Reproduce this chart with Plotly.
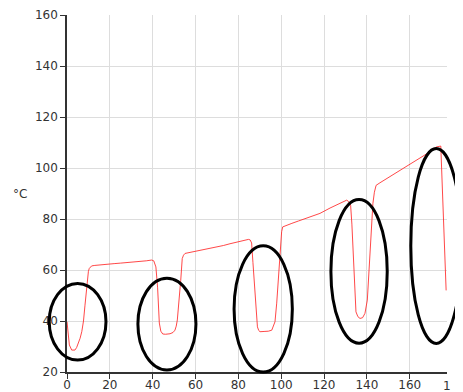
import plotly.graph_objects as go

# Temperature profile (°C) vs time
time = [0, 0.5, 1.1, 2.2, 3.0, 3.7, 4.5, 5.3, 6.1, 6.9, 7.7, 8.4, 9.0, 9.5, 10.0, 10.4, 11.0, 11.5,
        13, 15, 17.7, 20, 22, 25, 27, 30, 32, 35, 37, 39.5, 40.5, 41.5, 42.3, 43.1, 43.8, 44.7, 46,
        48.1, 49.5, 50.4, 51.0, 51.5, 52.3, 53.1, 53.8, 54.4, 55.1, 57, 60, 63, 66, 70, 73, 76.1,
        79, 82, 84.7, 85.5, 86.2, 86.8, 87.3, 88.1, 88.9, 89.5, 90.1, 92, 94, 95.6, 96.4, 97.1,
        97.9, 98.7, 99.3, 99.8, 100.2, 100.7, 102, 105, 108, 111, 114, 118.1, 122.8, 125, 127.5,
        130.6, 131.5, 132.4, 133.0, 133.4, 134.2, 134.9, 135.8, 136.8, 138, 139.1, 140.2, 141.2,
        142.2, 142.8, 143.5, 144.3, 146.1, 149.2, 152, 155, 158, 161, 164.8, 168, 170.5, 172.6,
        174.5, 177.0]
temp = [39.7, 34, 30.6, 28.6, 28.5, 28.6, 29.6, 31.2, 33.2, 35.8, 40, 46.2, 52, 56.7, 59.5, 60.6, 61.3, 61.6,
        61.8, 62.0, 62.2, 62.4, 62.5, 62.7, 62.8, 63.0, 63.2, 63.4, 63.6, 63.9, 63.6, 61.2, 53, 39.2, 36.0, 34.9, 34.8,
        35.0, 35.5, 36.4, 38, 40.4, 47, 56, 64.5, 65.8, 66.5, 66.8, 67.3, 67.8, 68.3, 69.0, 69.6, 70.3,
        70.9, 71.5, 72.0, 71.8, 70.6, 63, 56, 46, 37.7, 36.3, 35.8, 35.9, 36.0, 36.4, 37.8, 39.7,
        47, 56, 65, 71.7, 75, 76.9, 77.4, 78.3, 79.2, 80.0, 80.9, 82.2, 84.3, 85.2, 86.1,
        87.4, 86.8, 85.4, 78, 71.7, 57, 43.6, 41.7, 41.0, 41.3, 43, 48.2, 63,
        78.2, 86, 90.5, 93.2, 94.2, 95.8, 97.2, 98.6, 100.3, 101.9, 103.7, 105.6, 107.3, 108.3,
        108.6, 52]

x_ticks = [0, 20, 40, 60, 80, 100, 120, 140, 160]
y_ticks = [20, 40, 60, 80, 100, 120, 140, 160]

X_RANGE = [0, 177.4]
Y_RANGE = [20, 160]

# Highlight ellipses in data space: (x0, x1, y0, y1)
ellipses = [(-8.3, 18.2, 24.7, 54.7),
            (33.1, 60.2, 20.8, 56.8),
            (78.0, 105.2, 20.0, 69.5),
            (123.2, 149.5, 31.3, 87.6),
            (160.5, 184.3, 31.2, 107.6)]


def px(v):
    return (v - X_RANGE[0]) / (X_RANGE[1] - X_RANGE[0])


def py(v):
    return (v - Y_RANGE[0]) / (Y_RANGE[1] - Y_RANGE[0])


fig = go.Figure()
fig.add_trace(go.Scatter(x=time, y=temp, mode="lines",
                         line=dict(color="rgba(255,40,40,0.85)", width=1),
                         hoverinfo="skip", showlegend=False))

shapes = []
for (x0, x1, y0, y1) in ellipses:
    shapes.append(dict(type="circle", xref="paper", yref="paper",
                       x0=px(x0), x1=px(x1), y0=py(y0), y1=py(y1),
                       line=dict(color="black", width=3), layer="above"))

font = dict(family="DejaVu Sans, Verdana, sans-serif", size=12, color="#333")

axis_common = dict(ticks="outside", ticklen=5, tickcolor="#333", showline=True,
                   linecolor="#333", linewidth=1.5, showgrid=True,
                   gridcolor="#dddddd", gridwidth=1, zeroline=False,
                   tickfont=font, automargin=False)

fig.update_layout(
    width=455, height=384,
    margin=dict(l=59, r=16, t=7, b=20, pad=0, autoexpand=False),
    paper_bgcolor="white", plot_bgcolor="white",
    font=font,
    shapes=shapes,
    xaxis=dict(range=X_RANGE, tickvals=x_ticks, ticklabelstandoff=-4, **axis_common),
    yaxis=dict(range=Y_RANGE, tickvals=y_ticks, **axis_common),
    annotations=[
        dict(text="°C", xref="paper", yref="paper", x=-0.125, y=0.5,
             showarrow=False, font=font, xanchor="center", yanchor="middle"),
        dict(text="1", xref="paper", yref="paper", x=(441 - 67) / 380, y=-0.039,
             showarrow=False, font=font, xanchor="left", yanchor="middle"),
    ],
)

fig.write_html("out.html")
